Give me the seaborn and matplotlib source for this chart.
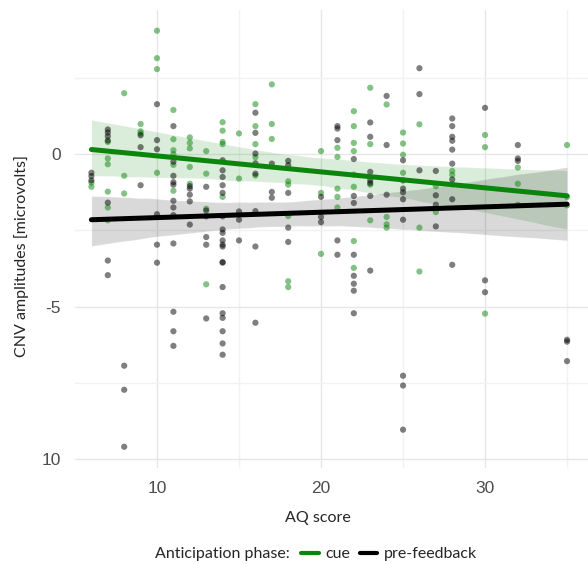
import numpy as np
import pandas as pd
import seaborn as sns
import matplotlib.pyplot as plt
from matplotlib.lines import Line2D
from matplotlib.ticker import FixedLocator
from matplotlib.offsetbox import HPacker

# AQ score per point and CNV amplitude
cue_x = [6, 6,
         7, 7, 7, 7, 7, 7,
         8, 8, 8,
         9, 9, 9,
         10, 10, 10, 10,
         11, 11, 11, 11, 11, 11,
         12, 12, 12, 12, 12,
         13, 13, 13, 13,
         14, 14, 14, 14, 14,
         15, 15,
         16, 16, 16, 16, 16,
         17, 17, 17,
         18, 18, 18, 18, 18,
         20, 20, 20,
         21, 21, 21, 21, 21,
         22, 22, 22, 22, 22, 22, 22, 22,
         23, 23, 23, 23,
         24, 24, 24, 24,
         25, 25, 25, 25,
         26, 26, 26,
         27, 27,
         28, 28, 28,
         30, 30, 30,
         32, 32, 32,
         35, 35, 35]
cue_y = [-0.93, -1.07,
         0.40, -0.14, -0.33, -1.23, -1.75, -2.17,
         2.0, -0.71, -1.29,
         0.99, 0.68, 0.75,
         4.05, 3.15, 2.79, -0.61,
         1.45, 0.49, 0.13, 0.0, -0.35, -1.2,
         0.55, 0.37, 0.19, -0.42, -0.97,
         0.1, -0.64, -1.79, -4.27,
         1.05, 0.77, 0.4, 0.33, -1.4,
         0.68, -0.8,
         1.64, 0.92, 0.33, -0.1, -0.7,
         2.29, 0.99, 0.5,
         -0.89, -1.0, -2.03, -4.17, -4.36,
         0.1, -1.27, -3.27,
         0.21, -0.09, -1.13, -1.4, -1.75,
         1.41, 0.92, 0.37, 0.1, -0.67, -1.07, -2.85, -3.73,
         2.18, 0.33, -1.0, -2.17,
         1.63, -2.06, -2.3, -2.41,
         0.71, 0.35, -0.02, -0.61,
         0.98, -2.41, -3.85,
         -1.05, -1.9,
         -0.55, -0.68, -0.99,
         0.63, 0.23, -5.23,
         -0.44, -0.97, -1.66,
         0.3, -1.4, -1.68]

pre_x = [6, 6, 6,
         7, 7, 7, 7, 7, 7, 7,
         8, 8, 8,
         9, 9, 9,
         10, 10, 10, 10, 10, 10,
         11, 11, 11, 11, 11, 11, 11, 11, 11, 11, 11, 11,
         12, 12, 12, 12, 12,
         13, 13, 13, 13, 13, 13,
         14, 14, 14, 14, 14, 14, 14, 14, 14, 14, 14, 14, 14, 14, 14, 14, 14, 14, 14,
         15, 15, 15,
         16, 16, 16, 16, 16, 16, 16, 16,
         17, 17, 17,
         18, 18, 18, 18, 18,
         20, 20, 20,
         21, 21, 21, 21, 21,
         22, 22, 22, 22, 22, 22, 22, 22,
         23, 23, 23, 23, 23, 23, 23,
         24, 24, 24,
         25, 25, 25, 25, 25, 25, 25, 25, 25,
         26, 26, 26,
         27, 27, 27, 27,
         28, 28, 28, 28, 28, 28, 28, 28, 28,
         30, 30, 30,
         32, 32, 32,
         35, 35, 35]
pre_y = [-0.61, -0.72, -0.86,
         0.81, 0.71, 0.59, 0.45, -1.59, -3.49, -3.97,
         -6.94, -7.73, -9.6,
         0.62, 0.23, -1.02,
         1.64, 0.46, 0.16, -1.97, -2.97, -3.56,
         0.92, -0.25, -0.71, -0.92, -1.0, -1.53, -1.75, -2.0, -2.93, -5.17, -5.81, -6.29,
         -1.05, -1.13, -1.33, -1.55, -2.31,
         -1.07, -1.85, -2.04, -2.72, -2.97, -5.39,
         -0.2, -0.53, -0.75, -1.02, -1.27, -2.04, -2.47, -2.58, -2.83, -2.97, -3.03,
         -3.54, -3.56, -4.36, -5.22, -5.37, -5.81, -6.21, -6.58,
         -1.88, -2.15, -2.83,
         1.36, 0.70, 0.02, -0.3, -0.64, -1.87, -3.03, -5.53,
         -0.31, -1.24, -1.43,
         -0.22, -0.36, -1.27, -2.41, -2.88,
         -1.4, -2.06, -2.23,
         0.92, 0.84, 0.46, -2.83, -3.3,
         -0.16, -1.37, -1.6, -3.3, -3.99, -4.25, -4.48, -5.22,
         1.04, 0.57, -0.58, -0.86, -0.95, -1.37, -3.82,
         1.91, 0.3, -1.33,
         -0.2, -0.86, -1.13, -1.25, -1.48, -2.15, -7.27, -7.59, -9.04,
         2.82, 1.97, -0.53,
         -0.55, -1.35, -1.66, -2.37,
         1.17, 0.92, 0.57, 0.44, 0.15, -0.31, -0.83, -1.48, -3.63,
         1.52, -4.14, -4.53,
         0.3, -0.14, -0.22,
         -6.09, -6.15, -6.79]

phases = ["cue", "pre-feedback"]
colors = {"cue": "#0b850b", "pre-feedback": "#000000"}

df = pd.concat([
    pd.DataFrame({"aq": cue_x, "cnv": cue_y, "phase": "cue"}),
    pd.DataFrame({"aq": pre_x, "cnv": pre_y, "phase": "pre-feedback"}),
])

sns.set_style("whitegrid")
fig = plt.figure(figsize=(5.88, 5.64), dpi=100)
ax = fig.add_axes([75 / 588, (564 - 467.5) / 564, 515 / 588, (467.5 - 10) / 564])

sns.scatterplot(data=df, x="aq", y="cnv", hue="phase", palette=colors,
                alpha=0.5, s=20, linewidth=0, legend=False, ax=ax, zorder=3)
# cue band bootstrapped per AQ score, pre-feedback per observation
band_units = {"cue": "aq", "pre-feedback": None}
for ph in phases:
    sub = df[df.phase == ph]
    sns.regplot(data=sub, x="aq", y="cnv", scatter=False, color=colors[ph],
                units=band_units[ph], line_kws={"linewidth": 3.6, "zorder": 4},
                seed=1, truncate=True, ax=ax)

ax.set_xlim(5.0, 36.4)
ax.set_ylim(-10.28, 4.73)
ax.xaxis.set_major_locator(FixedLocator([10, 20, 30]))
ax.xaxis.set_minor_locator(FixedLocator([15, 25, 35]))
ax.yaxis.set_major_locator(FixedLocator([-10, -5, 0]))
ax.yaxis.set_minor_locator(FixedLocator([-7.5, -2.5, 2.5]))
ax.set_yticklabels(["10", "-5", "0"])
ax.grid(which="major", color="#e6e6e6", linewidth=1.0)
ax.grid(which="minor", color="#f2f2f2", linewidth=1.0)
for s in ax.spines.values():
    s.set_visible(False)
ax.tick_params(which="both", length=0, labelsize=12.5, labelcolor="#4d4d4d", pad=10)
for lab in ax.get_xticklabels() + ax.get_yticklabels():
    lab.set_fontfamily("Liberation Sans")
ax.set_xlabel("")
ax.set_ylabel("")

font = "Lato"
fig.text(22 / 588, 1 - 256 / 564, "CNV amplitudes [microvolts]", rotation=90,
         ha="center", va="center", fontsize=11.5, family=font)
fig.text(318 / 588, 1 - 518 / 564, "AQ score", ha="center", va="center",
         fontsize=11.5, family=font)

handles = [Line2D([], [], color=colors[p], linewidth=3) for p in phases]
leg = fig.legend(handles, phases, title="Anticipation phase:", loc="center",
                 bbox_to_anchor=(316 / 588, 1 - 554 / 564), ncol=2, frameon=False,
                 handlelength=1.1, handletextpad=0.4, columnspacing=0.6,
                 prop={"family": font, "size": 11.5},
                 title_fontproperties={"family": font, "size": 11.5})
# title on the same row as the entries
leg._legend_box._children = [HPacker(pad=0, sep=8, align="center",
                                     children=[leg._legend_title_box,
                                               leg._legend_handle_box])]

fig.savefig("out.png", dpi=100)
